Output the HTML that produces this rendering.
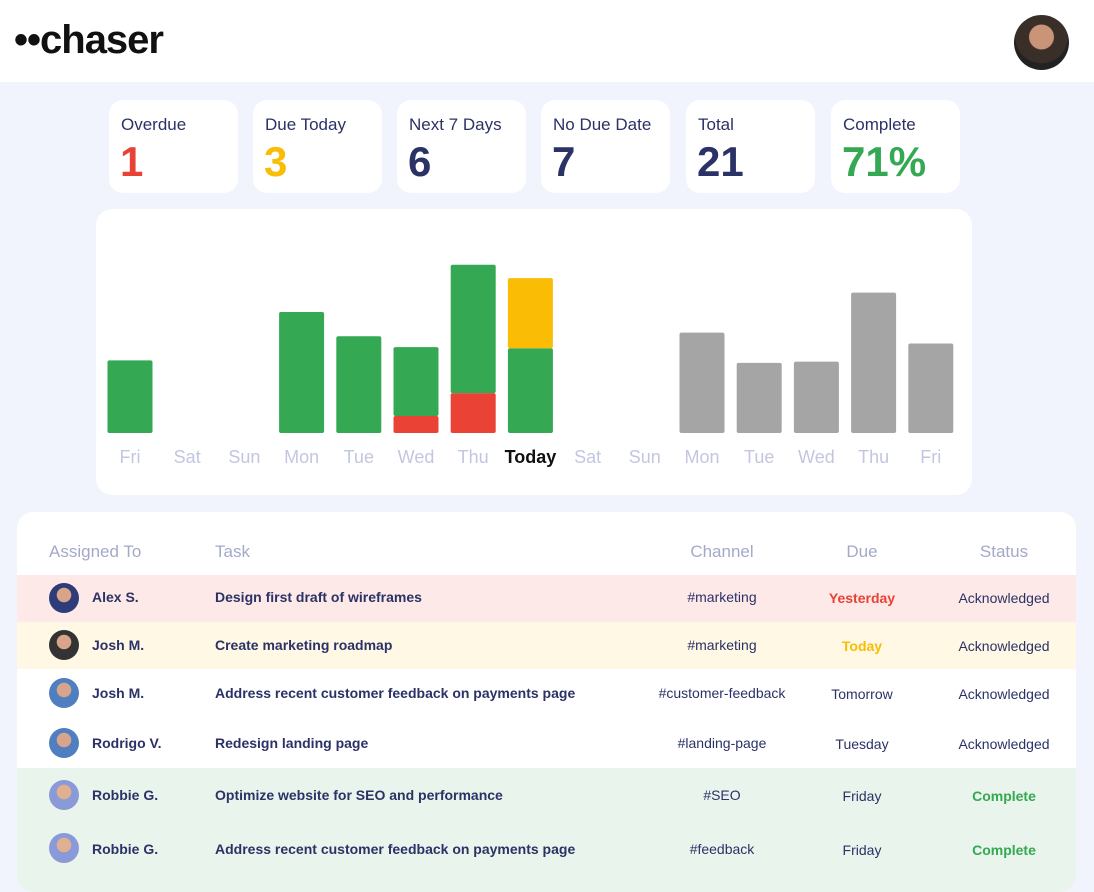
<!DOCTYPE html>
<html><head><meta charset="utf-8"><style>
*{box-sizing:border-box;margin:0;padding:0}
body{width:1094px;height:875px;overflow:hidden;background:#f1f4fc;font-family:"Liberation Sans",sans-serif;position:relative}
.hdr{position:absolute;left:0;top:0;width:1094px;height:82px;background:#fff}
.logo{position:absolute;left:14px;top:18px;font-size:40px;font-weight:bold;color:#111;letter-spacing:-1px}
.avatar{position:absolute;left:1014px;top:15px;width:55px;height:55px;border-radius:50%;background:radial-gradient(circle at 50% 40%,#c99478 0 28%,#3a2e28 30% 60%,#222 62%)}
.card{position:absolute;top:100px;width:129px;height:93px;background:#fff;border-radius:14px}
.card .l{position:absolute;left:12px;top:15px;font-size:17px;color:#2b3266}
.card .v{position:absolute;left:11px;top:38px;font-size:42px;font-weight:bold}
.chart{position:absolute;left:96px;top:209px;width:876px;height:286px;background:#fff;border-radius:16px}
.tbl{position:absolute;left:17px;top:512px;width:1059px;height:380px;background:#fff;border-radius:16px;overflow:hidden}
.th{position:absolute;top:30px;font-size:17px;color:#a4a9c8}
.row{position:absolute;left:0;width:1059px}
.row div{position:absolute;font-size:14px}
.av{width:30px;height:30px;border-radius:50%;left:32px;background:radial-gradient(circle at 50% 40%,#d8a58a 0 30%,#2f3c7a 32%)}
.nm{left:75px;font-weight:bold;color:#2b3266}
.tk{left:198px;font-weight:bold;color:#2b3266}
.ch{left:605px;width:200px;text-align:center;color:#2b3266}
.du{left:785px;width:120px;text-align:center;color:#2b3266}
.st{left:927px;width:120px;text-align:center;color:#2b3266}
</style></head><body>
<div class="hdr">
<div class="logo">••chaser</div>
<div class="avatar"></div>
</div>
<div class="card" style="left:109px"><div class="l">Overdue</div><div class="v" style="color:#e84236">1</div></div>
<div class="card" style="left:253px"><div class="l">Due Today</div><div class="v" style="color:#fbbc05">3</div></div>
<div class="card" style="left:397px"><div class="l">Next 7 Days</div><div class="v" style="color:#2b3266">6</div></div>
<div class="card" style="left:541px"><div class="l">No Due Date</div><div class="v" style="color:#2b3266">7</div></div>
<div class="card" style="left:686px"><div class="l">Total</div><div class="v" style="color:#2b3266">21</div></div>
<div class="card" style="left:831px"><div class="l">Complete</div><div class="v" style="color:#34a853">71%</div></div>
<div class="chart">
<svg id="svg" width="876" height="286" xmlns="http://www.w3.org/2000/svg"></svg>
</div>
<script>
const days=["Fri","Sat","Sun","Mon","Tue","Wed","Thu","Today","Sat","Sun","Mon","Tue","Wed","Thu","Fri"];
const green=[3,0,0,5,4,2.85,5.3,3.5,0,0,0,0,0,0,0];
const red=[0,0,0,0,0,0.7,1.65,0,0,0,0,0,0,0,0];
const yellow=[0,0,0,0,0,0,0,2.9,0,0,0,0,0,0,0];
const gray=[0,0,0,0,0,0,0,0,0,0,4.15,2.9,2.95,5.8,3.7];
const svg=document.getElementById('svg');const NS="http://www.w3.org/2000/svg";
const x=i=>34+i*57.2, y=v=>224-v*24.2, bw=45;
function rect(xx,yy,h,c,n){if(h<=0)return;const r=document.createElementNS(NS,'rect');
r.setAttribute('x',xx-bw/2);r.setAttribute('y',yy);r.setAttribute('width',bw);r.setAttribute('height',h);r.setAttribute('fill',c);r.setAttribute('rx',2);


svg.appendChild(r);}
days.forEach((d,i)=>{
 let base=0;
 rect(x(i),y(red[i]),224-y(red[i]),'#ea4335','bar-overdue-'+i);base+=red[i];
 rect(x(i),y(base+green[i]),y(base)-y(base+green[i]),'#34a853','bar-done-'+i);base+=green[i];
 rect(x(i),y(base+yellow[i]),y(base)-y(base+yellow[i]),'#fbbc05','bar-today-'+i);
 rect(x(i),y(gray[i]),224-y(gray[i]),'#a5a5a5','bar-future-'+i);
 const t=document.createElementNS(NS,'text');t.setAttribute('x',x(i));t.setAttribute('y',254);t.setAttribute('text-anchor','middle');
 t.setAttribute('font-size','18');t.setAttribute('font-family','Liberation Sans, sans-serif');
 if(d==="Today"){t.setAttribute('fill','#111');t.setAttribute('font-weight','bold');}else t.setAttribute('fill','#c3c6e0');
 t.textContent=d;
 
 
 svg.appendChild(t);});
</script>
<div class="tbl">
<div class="th" style="left:32px">Assigned To</div>
<div class="th" style="left:198px">Task</div>
<div class="th" style="left:605px;width:200px;text-align:center">Channel</div>
<div class="th" style="left:785px;width:120px;text-align:center">Due</div>
<div class="th" style="left:927px;width:120px;text-align:center">Status</div>
<div class="row" style="top:63px;height:47px;background:#fde9e8"><div class="av" style="top:8px"></div><div class="nm" style="top:14px">Alex S.</div><div class="tk" style="top:14px">Design first draft of wireframes</div><div class="ch" style="top:14px">#marketing</div><div class="du" style="top:15px;color:#e84236;font-weight:bold">Yesterday</div><div class="st" style="top:15px">Acknowledged</div></div>
<div class="row" style="top:110px;height:47px;background:#fef8e5"><div class="av" style="top:8px;background:radial-gradient(circle at 50% 40%,#d8a58a 0 30%,#333 32%)"></div><div class="nm" style="top:15px">Josh M.</div><div class="tk" style="top:15px">Create marketing roadmap</div><div class="ch" style="top:15px">#marketing</div><div class="du" style="top:16px;color:#fbbc05;font-weight:bold">Today</div><div class="st" style="top:16px">Acknowledged</div></div>
<div class="row" style="top:157px;height:49px;background:#fff"><div class="av" style="top:9px;background:radial-gradient(circle at 50% 40%,#d8a58a 0 30%,#4f7fc0 32%)"></div><div class="nm" style="top:16px">Josh M.</div><div class="tk" style="top:16px">Address recent customer feedback on payments page</div><div class="ch" style="top:16px">#customer-feedback</div><div class="du" style="top:17px">Tomorrow</div><div class="st" style="top:17px">Acknowledged</div></div>
<div class="row" style="top:206px;height:50px;background:#fff"><div class="av" style="top:10px;background:radial-gradient(circle at 50% 40%,#d8a58a 0 30%,#4f7fc0 32%)"></div><div class="nm" style="top:17px">Rodrigo V.</div><div class="tk" style="top:17px">Redesign landing page</div><div class="ch" style="top:17px">#landing-page</div><div class="du" style="top:18px">Tuesday</div><div class="st" style="top:18px">Acknowledged</div></div>
<div class="row" style="top:256px;height:54px;background:#e9f4ec"><div class="av" style="top:12px;background:radial-gradient(circle at 50% 40%,#e0b090 0 30%,#8a9ad8 32%)"></div><div class="nm" style="top:19px">Robbie G.</div><div class="tk" style="top:19px">Optimize website for SEO and performance</div><div class="ch" style="top:19px">#SEO</div><div class="du" style="top:20px">Friday</div><div class="st" style="top:20px;color:#34a853;font-weight:bold">Complete</div></div>
<div class="row" style="top:310px;height:70px;background:#e9f4ec"><div class="av" style="top:11px;background:radial-gradient(circle at 50% 40%,#e0b090 0 30%,#8a9ad8 32%)"></div><div class="nm" style="top:19px">Robbie G.</div><div class="tk" style="top:19px">Address recent customer feedback on payments page</div><div class="ch" style="top:19px">#feedback</div><div class="du" style="top:20px">Friday</div><div class="st" style="top:20px;color:#34a853;font-weight:bold">Complete</div></div>
</div>
</body></html>
